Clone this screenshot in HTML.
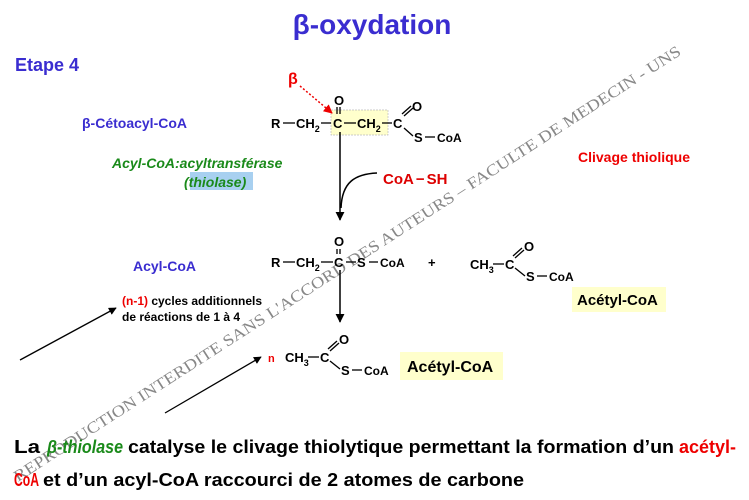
<!DOCTYPE html>
<html><head><meta charset="utf-8"><style>
html,body{margin:0;padding:0;background:#fff;width:749px;height:500px;overflow:hidden}
svg{display:block}
text{font-family:"Liberation Sans",sans-serif;font-weight:bold}
</style></head><body>
<svg width="749" height="500" viewBox="0 0 749 500">
<defs>
<marker id="ah" viewBox="0 0 10 10" refX="9" refY="5" markerWidth="6" markerHeight="6" orient="auto"><path d="M0,0L10,5L0,10z" fill="#000"/></marker>
<marker id="ahr" viewBox="0 0 10 10" refX="9" refY="5" markerWidth="6" markerHeight="6" orient="auto"><path d="M0,0L10,5L0,10z" fill="#e00"/></marker>
</defs>
<text x="0" y="0" transform="translate(18,482) rotate(-32.8)" style="font-family:'Liberation Serif',serif;font-weight:normal" font-size="16" fill="#888" textLength="790" lengthAdjust="spacingAndGlyphs">REPRODUCTION INTERDITE SANS L'ACCORD DES AUTEURS – FACULTE DE MEDECIN - UNS</text>

<text x="372" y="34" text-anchor="middle" font-size="28" fill="#3a2dd0">β-oxydation</text>
<text x="15" y="71" font-size="18" fill="#3a2dd0">Etape 4</text>
<text x="82" y="128" font-size="14" fill="#3a2dd0">β-Cétoacyl-CoA</text>

<rect x="331" y="110" width="57" height="25" fill="#ffffcc" stroke="#bbb" stroke-width="0.7" stroke-dasharray="2,1"/>
<g font-size="13" fill="#000">
<text x="271" y="128">R</text>
<text x="296" y="128">CH<tspan font-size="9" dy="4">2</tspan></text>
<text x="333" y="128">C</text>
<text x="357" y="128">CH<tspan font-size="9" dy="4">2</tspan></text>
<text x="393" y="128">C</text>
<text x="334" y="105">O</text>
<text x="412" y="111">O</text>
<text x="414" y="142">S</text>
<text x="437" y="142" font-size="12">CoA</text>
</g>
<g stroke="#000" stroke-width="1.3" fill="none">
<line x1="283" y1="123" x2="295" y2="123"/><line x1="321" y1="123" x2="331" y2="123"/>
<line x1="344" y1="123" x2="356" y2="123"/><line x1="382" y1="123" x2="392" y2="123"/>
<line x1="337" y1="107" x2="337" y2="114"/><line x1="340" y1="107" x2="340" y2="114"/>
<line x1="402" y1="114" x2="411" y2="106"/><line x1="404" y1="116" x2="413" y2="108"/>
<line x1="404" y1="128" x2="413" y2="136"/><line x1="425" y1="137" x2="435" y2="137"/>
</g>
<text x="288" y="84" font-size="16" fill="#e00">β</text>
<line x1="300" y1="86" x2="332" y2="113" stroke="#e00" stroke-width="1.5" stroke-dasharray="2,2" marker-end="url(#ahr)"/>

<line x1="340" y1="132" x2="340" y2="220" stroke="#000" stroke-width="1.5" marker-end="url(#ah)"/>
<path d="M377,173 C355,174 342,182 341,208" stroke="#000" stroke-width="1.5" fill="none"/>
<text x="383" y="184" font-size="15" fill="#d00">CoA<tspan dx="2">−</tspan><tspan dx="2">SH</tspan></text>
<text x="112" y="168" font-size="14" font-style="italic" fill="#1a8a1a">Acyl-CoA:acyltransférase</text>
<rect x="190" y="172" width="63" height="18" fill="#a8d0f0"/>
<text x="184" y="187" font-size="14" font-style="italic" fill="#1a8a1a">(thiolase)</text>
<text x="578" y="162" font-size="14" fill="#e00">Clivage thiolique</text>

<text x="133" y="271" font-size="14" fill="#3a2dd0">Acyl-CoA</text>
<g font-size="13" fill="#000">
<text x="271" y="267">R</text>
<text x="296" y="267">CH<tspan font-size="9" dy="4">2</tspan></text>
<text x="334" y="267">C</text>
<text x="334" y="246">O</text>
<text x="357" y="267">S</text>
<text x="380" y="267" font-size="12">CoA</text>
<text x="428" y="267">+</text>
<text x="470" y="269">CH<tspan font-size="9" dy="4">3</tspan></text>
<text x="505" y="269">C</text>
<text x="524" y="251">O</text>
<text x="526" y="281">S</text>
<text x="549" y="281" font-size="12">CoA</text>
</g>
<g stroke="#000" stroke-width="1.3" fill="none">
<line x1="283" y1="262" x2="295" y2="262"/><line x1="321" y1="262" x2="333" y2="262"/>
<line x1="346" y1="262" x2="356" y2="262"/><line x1="369" y1="262" x2="378" y2="262"/>
<line x1="337" y1="249" x2="337" y2="254"/><line x1="340" y1="249" x2="340" y2="254"/>
<line x1="493" y1="264" x2="504" y2="264"/>
<line x1="513" y1="256" x2="522" y2="248"/><line x1="515" y1="258" x2="524" y2="250"/>
<line x1="515" y1="268" x2="525" y2="276"/><line x1="537" y1="276" x2="547" y2="276"/>
</g>
<line x1="340" y1="270" x2="340" y2="322" stroke="#000" stroke-width="1.5" marker-end="url(#ah)"/>
<rect x="572" y="287" width="94" height="25" fill="#ffffcc"/>
<text x="577" y="305" font-size="15" fill="#000">Acétyl-CoA</text>

<text x="122" y="305" font-size="12" fill="#000"><tspan fill="#e00">(n-1)</tspan> cycles additionnels</text>
<text x="122" y="321" font-size="12" fill="#000">de réactions de 1 à 4</text>
<line x1="20" y1="360" x2="116" y2="308" stroke="#000" stroke-width="1.3" marker-end="url(#ah)"/>
<line x1="165" y1="413" x2="261" y2="357" stroke="#000" stroke-width="1.3" marker-end="url(#ah)"/>

<text x="268" y="362" font-size="11" fill="#e00">n</text>
<g font-size="13" fill="#000">
<text x="285" y="362">CH<tspan font-size="9" dy="4">3</tspan></text>
<text x="320" y="362">C</text>
<text x="339" y="344">O</text>
<text x="341" y="375">S</text>
<text x="364" y="375" font-size="12">CoA</text>
</g>
<g stroke="#000" stroke-width="1.3" fill="none">
<line x1="308" y1="357" x2="319" y2="357"/>
<line x1="328" y1="349" x2="337" y2="341"/><line x1="330" y1="351" x2="339" y2="343"/>
<line x1="330" y1="361" x2="340" y2="369"/><line x1="352" y1="370" x2="362" y2="370"/>
</g>
<rect x="400" y="352" width="103" height="28" fill="#ffffcc"/>
<text x="407" y="372" font-size="16" fill="#000">Acétyl-CoA</text>

<g font-size="18">
<text x="14" y="453" fill="#000" textLength="26" lengthAdjust="spacingAndGlyphs">La</text>
<text x="47" y="453" fill="#1a8a1a" font-style="italic" textLength="76" lengthAdjust="spacingAndGlyphs">β-thiolase</text>
<text x="128" y="453" fill="#000" textLength="546" lengthAdjust="spacingAndGlyphs">catalyse le clivage thiolytique permettant la formation d’un</text>
<text x="679" y="453" fill="#e00" textLength="57" lengthAdjust="spacingAndGlyphs">acétyl-</text>
<text x="14" y="486" fill="#e00" textLength="25" lengthAdjust="spacingAndGlyphs">CoA</text>
<text x="43" y="486" fill="#000" textLength="481" lengthAdjust="spacingAndGlyphs">et d’un acyl-CoA raccourci de 2 atomes de carbone</text>
</g>
</svg>
</body></html>
